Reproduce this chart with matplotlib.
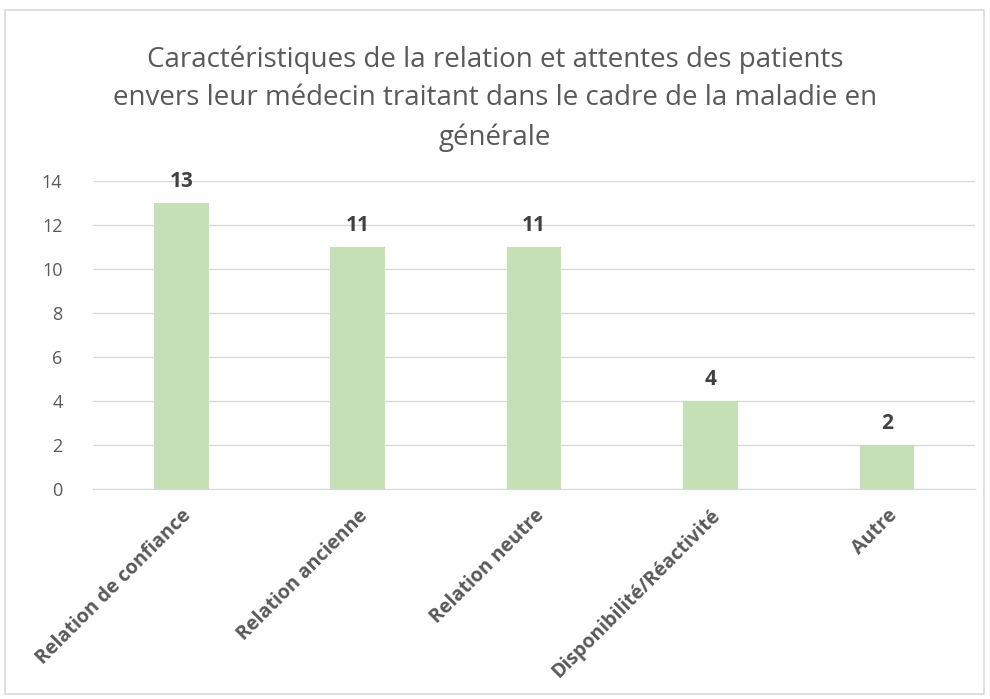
import matplotlib.pyplot as plt
from matplotlib.patches import Rectangle

categories = ['Relation de confiance', 'Relation ancienne', 'Relation neutre',
              'Disponibilité/Réactivité', 'Autre']
values = [13, 11, 11, 4, 2]
yticks = [0, 2, 4, 6, 8, 10, 12, 14]

plt.rcParams['font.family'] = ['Open Sans', 'DejaVu Sans']

fig = plt.figure(figsize=(9.9, 6.99), dpi=100)
ax = fig.add_axes([0.094, 0.300, 0.891, 0.441])

# outer chart border
fig.patches.append(Rectangle((0.005, 0.007), 0.989, 0.979, transform=fig.transFigure,
                             fill=False, edgecolor='#d9d9d9', linewidth=1.2))

x = range(len(categories))
bars = ax.bar(x, values, width=0.31, color='#c5e0b4', zorder=3)

for b, v in zip(bars, values):
    ax.text(b.get_x() + b.get_width() / 2, v + 0.5, str(v), ha='center', va='bottom',
            fontsize=15, fontweight='bold', color='#404040')

ax.set_xlim(-0.5, len(categories) - 0.5)
ax.set_ylim(0, 14)
ax.set_yticks(yticks)
ax.grid(axis='y', color='#d9d9d9', linewidth=1, zorder=0)
for s in ['top', 'right', 'left']:
    ax.spines[s].set_visible(False)
ax.spines['bottom'].set_color('#d9d9d9')
ax.tick_params(axis='both', length=0, colors='#595959', labelsize=13)
ax.tick_params(axis='y', pad=22)
ax.tick_params(axis='x', pad=12)
ax.set_xticks(list(x))
ax.set_xticklabels(categories, rotation=45, ha='right', rotation_mode='anchor',
                   fontweight='bold', fontsize=14)

fig.text(0.5, 0.859, 'Caractéristiques de la relation et attentes des patients\n'
         'envers leur médecin traitant dans le cadre de la maladie en\ngénérale',
         ha='center', va='center', fontsize=20, color='#595959', linespacing=1.5)

fig.savefig('out.png', dpi=100)
